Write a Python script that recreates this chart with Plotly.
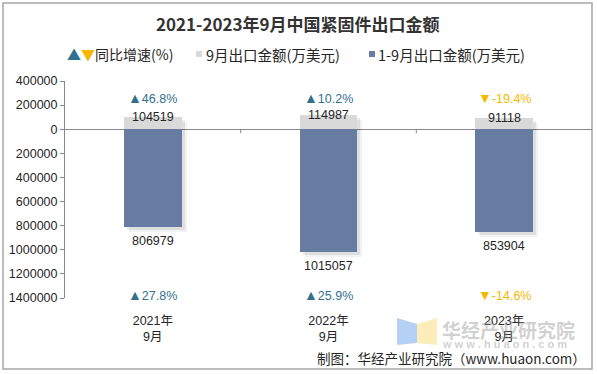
import plotly.graph_objects as go

# ---- data ----
categories = ["2021年<br>9月", "2022年<br>9月", "2023年<br>9月"]
sep_values = [104519, 114987, 91118]          # 9月出口金额(万美元)
ytd_values = [806979, 1015057, 853904]        # 1-9月出口金额(万美元)
sep_yoy = [46.8, 10.2, -19.4]                 # 9月同比增速(%)
ytd_yoy = [27.8, 25.9, -14.6]                 # 1-9月同比增速(%)
y_tick_vals = [400000, 200000, 0, -200000, -400000, -600000, -800000,
               -1000000, -1200000, -1400000]

# ---- layout geometry (pixels) ----
W, H = 597, 374
L, R, T, B = 65, 5, 81, 76
PW, PH = W - L - R, H - T - B


def px(x):
    return (x - L) / PW


def py(y):
    return (H - B - y) / PH


BLUE_UP = "#31708F"
GOLD = "#F5B800"
GRAY_BAR = "#D9D9D9"
BLUE_BAR = "#687CA1"
TXT = "#262626"
FONT = "Liberation Sans, Arial, Noto Sans CJK SC, sans-serif"
CJK = "Noto Sans CJK SC, sans-serif"

bw = 0.33
ystep = 1800000 / PH   # data units per pixel
xstep = 1 / 176        # category units per pixel

fig = go.Figure()

# soft shadows
for k, a in [(5, 0.05), (3, 0.08)]:
    fig.add_trace(go.Bar(
        x=categories,
        y=[s + t for s, t in zip(sep_values, ytd_values)],
        base=[-t - k * ystep for t in ytd_values],
        width=bw, offset=-bw / 2 + k * xstep,
        marker=dict(color=f"rgba(0,0,0,{a})", line=dict(width=0)),
        hoverinfo="skip", showlegend=False))

fig.add_trace(go.Bar(
    x=categories, y=sep_values, width=bw, offset=-bw / 2,
    marker=dict(color=GRAY_BAR, line=dict(width=0)),
    name="9月出口金额(万美元)", showlegend=False))
fig.add_trace(go.Bar(
    x=categories, y=[-v for v in ytd_values], width=bw, offset=-bw / 2,
    marker=dict(color=BLUE_BAR, line=dict(width=0)),
    name="1-9月出口金额(万美元)", showlegend=False))

annotations = []
for c, s, t, p1, p2 in zip(categories, sep_values, ytd_values, sep_yoy, ytd_yoy):
    annotations.append(dict(x=c, y=s, xref="x", yref="y", text=str(s),
                            showarrow=False, yanchor="middle",
                            font=dict(family=FONT, size=12.5, color=TXT)))
    annotations.append(dict(x=c, y=-t, xref="x", yref="y", text=str(t),
                            showarrow=False, yanchor="top", yshift=-5,
                            font=dict(family=FONT, size=12.5, color=TXT)))
    for p, yy in [(p1, py(98)), (p2, py(295))]:
        sym = "▲" if p >= 0 else "▼"
        col = BLUE_UP if p >= 0 else GOLD
        annotations.append(dict(x=c, y=yy, xref="x", yref="paper",
                                text=f"<span style='font-size:14px'>{sym}</span>{p}%",
                                showarrow=False, yanchor="middle",
                                font=dict(family=FONT, size=12.5, color=col)))

# title
annotations.append(dict(x=px(298), y=py(24), xref="paper", yref="paper",
                        text="<b>2021-2023年9月中国紧固件出口金额</b>",
                        showarrow=False, xanchor="center", yanchor="middle",
                        font=dict(family=CJK, size=17, color="#333333")))

# legend
annotations.append(dict(x=px(65), y=py(54), xref="paper", yref="paper",
                        text=f"<span style='color:{BLUE_UP}'>▲</span>"
                             f"<span style='color:{GOLD}'>▼</span>同比增速(%)",
                        showarrow=False, xanchor="left", yanchor="middle",
                        font=dict(family=CJK, size=14, color=TXT)))
annotations.append(dict(x=px(204), y=py(54), xref="paper", yref="paper",
                        text="9月出口金额(万美元)", showarrow=False,
                        xanchor="left", yanchor="middle",
                        font=dict(family=CJK, size=14.5, color=TXT)))
annotations.append(dict(x=px(376), y=py(54), xref="paper", yref="paper",
                        text="1-9月出口金额(万美元)", showarrow=False,
                        xanchor="left", yanchor="middle",
                        font=dict(family=CJK, size=14.5, color=TXT)))

# watermark
annotations.append(dict(x=px(440), y=py(329), xref="paper", yref="paper",
                        text="<b>华经产业研究院</b>", showarrow=False,
                        xanchor="left", yanchor="middle",
                        font=dict(family=CJK, size=19, color="rgba(150,150,150,0.45)")))
annotations.append(dict(x=px(440), y=py(344), xref="paper", yref="paper",
                        text="<b>w w w . h u a o n . c o m</b>", showarrow=False,
                        xanchor="left", yanchor="middle",
                        font=dict(family=FONT, size=11, color="rgba(150,150,150,0.45)")))
# source
annotations.append(dict(x=px(588), y=py(358), xref="paper", yref="paper",
                        text="制图：华经产业研究院（www.huaon.com）", showarrow=False,
                        xanchor="right", yanchor="middle",
                        font=dict(family=CJK, size=13.5, color=TXT)))

shapes = []
# outer border
shapes.append(dict(type="rect", xref="paper", yref="paper",
                   x0=px(3), x1=px(592), y0=py(369), y1=py(3),
                   line=dict(color="#A6A6A6", width=1.5), layer="below"))
# legend squares
shapes.append(dict(type="rect", xref="paper", yref="paper",
                   x0=px(196), x1=px(202), y0=py(57), y1=py(51),
                   fillcolor=GRAY_BAR, line=dict(width=0)))
shapes.append(dict(type="rect", xref="paper", yref="paper",
                   x0=px(369), x1=px(375), y0=py(57), y1=py(51),
                   fillcolor=BLUE_BAR, line=dict(width=0)))
# category boundary ticks on the zero line
for i in range(1, len(categories)):
    shapes.append(dict(type="line", xref="x", yref="y", x0=i - 0.5, x1=i - 0.5,
                       y0=0, y1=-4 * ystep, line=dict(color="#888888", width=1)))
# watermark logo
shapes.append(dict(type="path", xref="paper", yref="paper",
                   path=f"M {px(397)},{py(318)} L {px(417)},{py(324)} L {px(417)},{py(343)} "
                        f"L {px(397)},{py(345)} Z",
                   fillcolor="rgba(140,185,240,0.65)", line=dict(width=0)))
shapes.append(dict(type="path", xref="paper", yref="paper",
                   path=f"M {px(417)},{py(324)} L {px(437)},{py(318)} L {px(437)},{py(345)} "
                        f"L {px(417)},{py(343)} Z",
                   fillcolor="rgba(252,228,150,0.65)", line=dict(width=0)))

fig.update_layout(
    width=W, height=H, autosize=False,
    margin=dict(l=L, r=R, t=T, b=B, pad=0),
    paper_bgcolor="white", plot_bgcolor="white",
    barmode="overlay", bargap=0,
    showlegend=False,
    annotations=annotations, shapes=shapes,
    xaxis=dict(type="category", range=[-0.5, 2.5], showgrid=False,
               showline=False, zeroline=False, ticks="",
               tickfont=dict(family=FONT, size=12.5, color=TXT),
               ticklabelstandoff=13, fixedrange=True),
    yaxis=dict(range=[-1400000, 400000], tickvals=y_tick_vals,
               ticktext=[str(abs(v)) for v in y_tick_vals],
               showgrid=False, showline=True, linecolor="#888888", linewidth=1,
               ticks="outside", ticklen=4, tickcolor="#888888",
               zeroline=True, zerolinecolor="#888888", zerolinewidth=1,
               tickfont=dict(family=FONT, size=12.5, color=TXT),
               automargin=False, fixedrange=True),
)

fig.write_html("out.html",
               config={"displayModeBar": False, "staticPlot": True},
               post_script="document.body.style.margin='0px';"
                           "document.body.style.overflow='hidden';")
